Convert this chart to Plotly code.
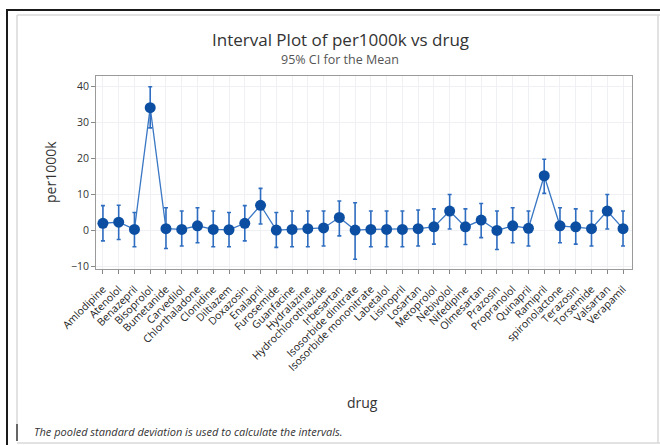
import plotly.graph_objects as go

# Drugs on the x axis
drugs = [
    "Amlodipine", "Atenolol", "Benazepril", "Bisoprolol", "Bumetanide",
    "Carvedilol", "Chlorthaladone", "Clonidine", "Diltiazem", "Doxazosin",
    "Enalapril", "Furosemide", "Guanfacine", "Hydralazine",
    "Hydrochlorothiazide", "Irbesartan", "Isosorbide dinitrate",
    "Isosorbide mononitrate", "Labetalol", "Lisinopril", "Losartan",
    "Metoprolol", "Nebivolol", "Nifedipine", "Olmesartan", "Prazosin",
    "Propranolol", "Quinapril", "Ramipril", "spironolactone", "Terazosin",
    "Torsemide", "Valsartan", "Verapamil",
]

# Mean per1000k for each drug
mean = [1.9, 2.2, 0.2, 34.0, 0.4, 0.2, 1.2, 0.2, 0.1, 1.9,
        6.9, 0.0, 0.2, 0.4, 0.6, 3.5, 0.0, 0.2, 0.2, 0.2,
        0.4, 0.9, 5.3, 0.9, 2.8, -0.1, 1.2, 0.5, 15.1, 1.2,
        0.9, 0.4, 5.3, 0.4]

# 95% CI bounds for the mean
ci_low = [-3.0, -2.6, -4.6, 28.4, -5.1, -4.4, -3.5, -4.6, -4.6, -3.0,
          1.7, -4.8, -4.6, -4.6, -4.4, -1.6, -8.1, -4.6, -4.6, -4.6,
          -4.4, -3.9, 0.3, -4.0, -2.1, -5.4, -3.5, -4.4, 10.2, -3.5,
          -3.9, -4.4, 0.3, -4.4]
ci_high = [6.8, 6.9, 4.9, 39.8, 6.2, 5.3, 6.2, 5.3, 4.9, 6.8,
           11.6, 4.9, 5.3, 5.3, 5.3, 8.1, 7.6, 5.3, 5.3, 5.3,
           5.6, 5.9, 9.9, 5.9, 7.4, 5.3, 6.2, 5.3, 19.7, 6.2,
           5.9, 5.3, 9.9, 5.3]

y_ticks = [-10, 0, 10, 20, 30, 40]

err_plus = [h - m for h, m in zip(ci_high, mean)]
err_minus = [m - l for m, l in zip(mean, ci_low)]

FONT = "Open Sans, Noto Sans, sans-serif"
W, H = 660, 445
L, R, T, B = 96, 28, 76, 176
PW, PH = W - L - R, H - T - B


def px(x):
    return (x - L) / PW


def py(y):
    return (H - B - y) / PH


fig = go.Figure()
fig.add_trace(go.Scatter(
    x=drugs, y=mean,
    mode="lines+markers",
    line=dict(color="#3a77c4", width=1.3),
    marker=dict(color="#0c4fa2", size=11),
    error_y=dict(type="data", symmetric=False,
                 array=err_plus, arrayminus=err_minus,
                 color="#2f6dc0", thickness=1.6, width=2),
    showlegend=False,
    hoverinfo="x+y",
))

frame_dark = dict(color="#1a1a1a", width=2)
frame_light = dict(color="#d9d9d9", width=1.5)
shapes = [
    dict(type="line", xref="paper", yref="paper",
         x0=px(6), x1=px(662), y0=py(10), y1=py(10), line=frame_dark),
    dict(type="line", xref="paper", yref="paper",
         x0=px(7), x1=px(7), y0=py(9), y1=py(446), line=frame_dark),
    dict(type="line", xref="paper", yref="paper",
         x0=px(17), x1=px(662), y0=py(15), y1=py(15), line=frame_light),
    dict(type="line", xref="paper", yref="paper",
         x0=px(17), x1=px(17), y0=py(15), y1=py(424), line=frame_light),
    dict(type="line", xref="paper", yref="paper",
         x0=px(17), x1=px(17), y0=py(424), y1=py(441),
         line=dict(color="#333333", width=1.5)),
    dict(type="line", xref="paper", yref="paper",
         x0=px(17), x1=px(662), y0=py(443), y1=py(443), line=frame_light),
    dict(type="line", xref="paper", yref="paper",
         x0=px(658), x1=px(658), y0=py(15), y1=py(443), line=frame_light),
]


def label(text, x, y, size, color="#333333", xanchor="center", angle=0):
    return dict(text=text, x=px(x), y=py(y), xref="paper", yref="paper",
                xanchor=xanchor, yanchor="middle", showarrow=False,
                textangle=angle,
                font=dict(family=FONT, size=size, color=color))


annotations = [
    label("Interval Plot of per1000k vs drug", 340, 39, 17),
    label("95% CI for the Mean", 340, 60, 12.5, "#555555"),
    label("per1000k", 50, 172, 14, angle=-90),
    label("drug", 362, 402, 14),
    label("<i>The pooled standard deviation is used to calculate the intervals.</i>",
          32, 431, 11, xanchor="left"),
]

fig.update_layout(
    width=W, height=H,
    margin=dict(l=L, r=R, t=T, b=B),
    paper_bgcolor="white", plot_bgcolor="white",
    font=dict(family=FONT, color="#333333"),
    shapes=shapes,
    annotations=annotations,
)

fig.update_xaxes(
    type="category", categoryorder="array", categoryarray=drugs,
    range=[-0.44, len(drugs) - 1 + 0.57],
    tickangle=-45, tickfont=dict(size=10.5, color="#222222"),
    ticklabelstandoff=5,
    ticks="outside", ticklen=4, tickcolor="#888888",
    showgrid=True, gridcolor="#eef0f3", gridwidth=1,
    showline=True, linecolor="#9a9a9a", linewidth=1, mirror=True,
    zeroline=False,
)
fig.update_yaxes(
    range=[-10.8, 42.8], tickvals=y_ticks,
    tickfont=dict(size=10.5, color="#333333"),
    ticks="outside", ticklen=4, tickcolor="#888888",
    showgrid=True, gridcolor="#eef0f3", gridwidth=1,
    showline=True, linecolor="#9a9a9a", linewidth=1, mirror=True,
    zeroline=False,
)

fig.write_html("out.html")
